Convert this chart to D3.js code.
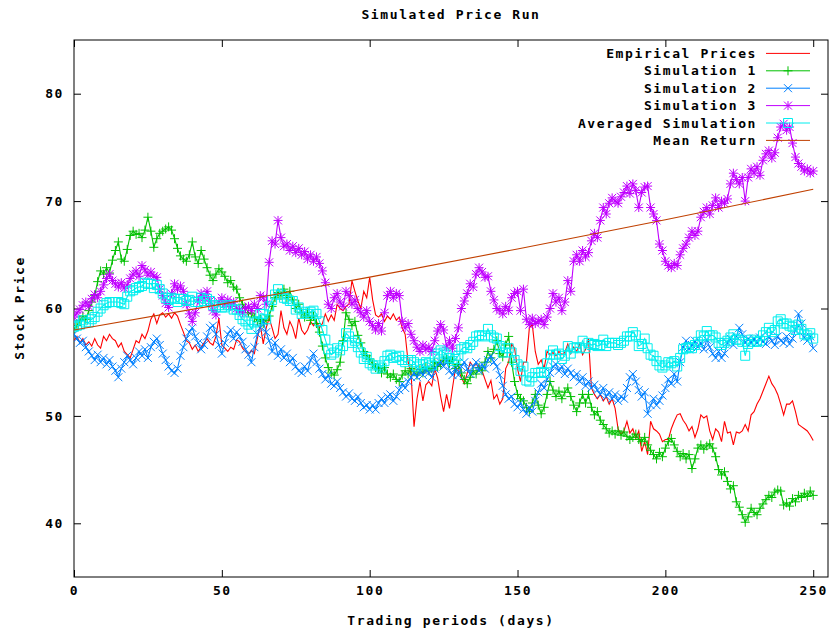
<!DOCTYPE html>
<html>
<head>
<meta charset="utf-8">
<script src="https://cdn.jsdelivr.net/npm/d3@7"></script>
<style>
  body { margin: 0; background: #fff; }
  text { font-family: "DejaVu Sans Mono", monospace; font-size: 13px; font-weight: bold; letter-spacing: 1.6px; fill: #000; }
</style>
</head>
<body>
<div class="container"></div>
<script>
// values, one per trading day (0..250)
let empirical = [
  57.0,57.4,56.8,57.2,56.6,56.9,56.5,57.2,56.6,56.3,
  57.4,57.0,57.6,57.2,57.0,56.4,56.8,56.0,55.7,55.4,
  56.2,57.0,56.8,57.6,57.2,57.9,59.0,59.5,58.6,59.4,
  59.6,59.2,59.5,59.1,59.6,59.3,58.5,57.8,57.0,56.8,
  56.2,56.6,56.0,56.4,56.8,57.2,56.8,56.6,57.4,59.1,
  56.6,56.3,56.0,56.4,56.2,57.1,56.9,56.3,56.0,55.7,
  56.1,55.8,57.2,58.5,56.7,58.2,59.1,58.2,57.2,57.6,
  59.8,58.2,57.6,58.8,58.2,57.2,59.1,58.0,57.6,58.0,
  58.8,58.4,58.8,58.2,58.6,59.5,58.8,59.4,58.9,60.4,
  60.0,59.8,60.2,60.4,62.6,61.6,60.7,60.0,61.6,61.0,
  62.9,60.8,59.4,59.2,59.5,58.8,59.3,59.0,59.5,58.9,
  59.2,58.2,57.6,55.0,53.9,49.0,51.6,53.2,51.4,52.9,
  53.2,52.8,54.4,53.5,51.8,50.4,52.0,50.7,52.6,54.4,
  54.2,53.6,53.0,54.0,55.0,54.6,54.8,54.6,54.2,53.4,
  52.6,53.3,51.6,52.0,51.1,51.6,54.4,55.0,56.7,56.3,
  54.4,53.2,55.0,55.0,58.2,58.5,56.0,54.8,55.2,54.4,
  56.0,55.7,55.9,55.6,56.0,55.7,55.9,56.7,55.8,56.4,
  56.0,56.7,55.7,56.2,57.2,52.6,52.0,51.6,52.0,51.4,
  51.8,51.1,51.6,50.7,48.8,48.3,48.6,49.5,48.4,48.8,
  47.9,48.6,46.7,47.6,46.4,49.5,48.8,48.6,48.3,47.6,
  47.8,47.8,48.8,49.5,50.1,50.2,49.6,49.2,48.6,49.0,
  48.0,48.8,50.1,49.8,50.0,48.6,47.8,48.8,48.5,47.6,
  49.5,48.4,48.5,47.3,48.5,48.4,48.6,49.2,48.6,50.1,
  50.4,51.1,51.6,52.3,53.0,53.7,53.0,52.6,52.0,51.1,
  50.1,51.1,51.1,51.4,50.4,49.2,49.0,48.8,48.6,48.2,47.7
];

let sim1 = [
  58.0,58.4,58.9,59.3,59.0,59.8,60.6,61.2,62.5,63.5,
  63.2,63.8,63.3,64.5,65.4,66.2,64.6,64.4,65.5,66.8,
  67.2,66.9,67.0,66.6,67.3,68.5,67.2,65.7,66.5,67.0,
  67.2,67.4,67.6,67.3,66.5,65.6,64.9,64.6,64.4,65.0,
  66.2,64.8,64.2,65.4,64.6,63.8,63.1,62.6,63.2,63.7,
  63.4,63.0,62.4,62.6,62.0,61.8,61.0,60.4,60.1,59.6,
  59.5,59.2,58.8,59.0,58.6,58.9,59.3,60.2,61.0,61.5,
  61.2,61.8,61.0,61.6,60.8,60.0,60.4,59.6,59.2,59.6,
  58.9,59.3,58.6,57.8,56.5,55.4,54.5,54.0,53.8,54.3,
  55.0,57.0,59.6,59.0,58.4,58.8,57.5,56.8,56.0,55.6,
  55.3,54.8,54.5,54.4,54.0,54.5,53.9,53.6,53.9,53.4,
  53.2,53.8,54.2,53.9,54.4,54.1,53.8,54.3,54.0,54.5,
  54.2,54.4,55.0,54.6,54.8,55.2,55.4,54.9,55.2,54.4,
  54.8,54.0,53.4,53.0,53.6,54.2,53.9,54.5,54.2,55.0,
  56.0,55.4,56.2,57.0,55.8,55.5,56.6,57.4,55.0,53.2,
  52.0,51.6,51.4,50.8,50.4,51.2,52.0,51.0,50.2,50.8,
  52.0,53.2,52.4,51.8,52.3,51.6,52.2,52.6,51.8,51.0,
  50.4,51.2,52.0,51.2,52.0,50.8,50.1,50.4,49.6,49.2,
  48.8,48.4,48.6,48.3,48.6,48.2,48.5,48.1,47.8,48.0,
  48.3,47.8,47.6,48.0,47.3,46.8,46.4,46.0,46.6,46.2,
  47.0,47.6,47.9,47.3,46.7,46.2,46.5,46.0,46.4,45.1,
  46.0,47.0,47.3,46.9,47.2,47.4,47.0,46.2,45.0,44.5,
  44.8,43.9,43.2,43.5,42.0,41.5,40.8,40.1,40.6,41.4,
  41.0,40.8,41.4,41.8,42.2,42.6,42.4,42.9,43.1,43.0,
  41.7,41.9,41.6,42.3,42.0,42.6,42.4,42.8,42.5,43.0,42.6
];

let sim2 = [
  57.6,57.2,56.8,57.0,56.4,56.0,55.6,55.2,55.7,55.0,
  55.4,54.8,55.2,54.6,54.2,53.6,54.4,55.0,55.6,55.2,
  54.8,55.4,56.0,55.6,56.2,55.4,56.4,56.9,57.2,56.6,
  55.8,55.2,54.6,54.2,54.0,54.4,55.6,56.4,57.2,57.8,
  58.2,57.4,56.8,56.2,56.6,57.4,58.2,58.4,57.6,56.6,
  55.8,56.8,57.6,58.0,57.2,57.8,57.4,56.9,56.2,55.7,
  55.0,56.4,57.6,58.2,58.8,57.8,57.0,56.0,56.8,55.6,
  56.2,55.4,55.8,55.0,55.4,54.6,54.2,54.0,54.6,54.2,
  55.2,55.8,55.0,54.4,53.9,53.4,53.8,53.0,52.8,53.2,
  52.6,52.2,51.8,52.1,51.6,51.4,51.8,51.2,50.8,51.0,
  50.6,51.0,50.6,51.2,51.6,51.2,51.8,52.0,51.4,51.8,
  52.4,53.0,52.6,53.2,53.6,54.0,53.6,54.2,53.8,54.4,
  54.0,53.6,54.4,54.8,55.0,54.6,55.2,54.2,53.8,54.4,
  53.8,54.6,55.0,54.4,53.9,54.6,55.0,54.2,54.8,54.4,
  55.2,55.6,55.0,54.6,53.8,52.8,52.0,51.6,51.8,51.1,
  50.8,51.2,50.6,50.2,50.8,50.4,51.4,52.2,53.0,52.6,
  53.4,54.0,54.6,54.8,54.2,54.6,53.9,54.4,54.0,53.6,
  53.9,53.2,53.6,52.8,53.2,52.6,52.9,52.4,52.0,52.6,
  51.8,52.2,51.6,52.0,51.4,51.8,51.6,52.6,53.6,53.9,
  53.2,52.4,51.8,52.2,50.2,51.0,51.6,51.0,51.4,51.9,
  52.6,53.4,53.0,53.9,53.2,55.0,56.4,57.0,56.2,56.6,
  57.0,56.4,56.8,56.2,57.1,56.4,55.8,55.4,56.0,55.4,
  55.8,56.8,57.2,56.6,57.4,58.2,57.6,56.8,57.2,56.8,
  57.2,56.8,57.3,56.9,56.7,57.4,57.0,56.6,57.4,57.0,
  56.8,57.4,56.7,57.2,58.0,59.5,58.6,57.3,57.0,57.4,56.3
];

let sim3 = [
  59.2,59.6,59.9,60.3,60.6,60.2,60.9,61.3,61.0,61.6,
  62.2,62.8,63.2,62.6,62.3,62.0,62.4,61.9,62.2,62.8,
  63.2,63.5,63.0,64.0,63.6,63.1,63.4,63.0,62.9,61.8,
  61.2,60.5,60.1,61.4,62.3,61.8,62.1,61.6,60.4,59.5,
  58.8,59.6,60.8,61.4,61.0,61.6,60.7,59.8,59.4,60.6,
  61.0,60.4,60.8,60.2,60.6,60.0,59.8,59.6,60.0,60.2,
  59.8,60.4,60.0,61.2,61.0,60.4,64.3,66.3,66.0,68.2,
  66.6,65.8,66.0,65.4,65.8,65.2,65.6,65.0,65.3,64.6,
  65.0,64.4,64.8,64.2,63.5,62.4,60.4,60.0,61.0,61.4,
  60.6,60.2,61.6,61.2,60.4,60.8,60.0,59.6,59.2,59.8,
  58.8,58.4,58.0,58.6,57.9,59.6,61.2,61.6,61.0,61.4,
  61.2,58.8,58.2,58.6,57.6,57.0,56.4,56.0,56.6,56.2,
  56.4,56.0,57.0,57.9,58.5,58.0,56.4,57.0,56.3,57.2,
  58.2,60.0,60.7,61.4,62.3,62.0,63.2,63.8,63.4,62.9,
  63.0,61.6,60.8,60.0,59.8,59.5,60.2,59.8,61.0,61.4,
  61.6,59.8,61.8,59.0,58.5,59.1,58.6,58.8,59.0,58.5,
  59.2,60.0,61.4,60.6,61.0,59.8,60.6,62.6,61.6,64.4,
  65.0,64.4,65.4,64.8,65.2,66.3,67.0,66.6,68.2,69.4,
  68.8,69.8,70.3,70.0,69.8,70.4,70.8,71.4,70.7,71.6,
  71.0,69.4,70.8,71.3,71.4,69.4,68.8,68.2,66.0,65.4,
  64.4,64.0,63.8,64.2,64.0,65.0,65.6,66.0,66.6,67.2,
  66.8,67.2,68.5,69.0,69.4,68.8,69.6,70.3,69.4,70.0,
  69.8,70.2,71.6,72.6,72.0,71.6,72.2,70.0,72.2,73.0,
  72.6,73.2,72.4,73.8,74.4,74.7,74.0,74.5,75.9,76.9,
  77.2,76.6,76.9,75.4,74.1,73.5,73.2,72.8,73.0,72.6,72.8
];

let averaged = [
  58.3,58.4,58.5,58.9,58.7,58.7,59.0,59.2,59.7,60.0,
  60.3,60.5,60.6,60.6,60.6,60.6,60.5,60.4,61.1,61.6,
  61.7,61.9,62.0,62.1,62.4,62.3,62.3,61.9,62.2,61.8,
  61.4,61.0,60.8,61.0,60.9,60.6,60.9,60.9,60.7,60.8,
  61.1,60.6,60.6,61.0,60.7,60.9,60.7,60.3,60.1,60.3,
  60.1,60.1,60.3,60.3,59.9,59.9,59.4,59.0,58.8,58.5,
  58.1,58.7,58.8,59.5,59.5,59.0,60.2,60.8,61.3,61.8,
  61.3,61.0,60.9,60.7,60.7,59.9,60.1,59.5,59.7,59.5,
  59.7,59.8,59.5,58.8,58.0,57.1,56.2,55.7,55.9,56.3,
  56.1,56.5,57.7,57.4,56.8,57.0,56.4,55.9,55.3,55.5,
  54.9,54.7,54.4,54.7,54.5,55.1,55.6,55.7,55.4,55.5,
  55.6,55.2,55.0,55.2,55.2,55.0,54.6,54.8,54.8,55.0,
  54.9,54.7,55.5,55.8,56.1,55.9,55.7,55.4,55.1,55.3,
  55.6,56.2,56.4,56.3,56.6,56.9,57.4,57.5,57.5,57.4,
  58.1,57.5,57.3,57.2,56.5,55.9,56.3,56.3,55.9,55.2,
  54.8,54.2,54.6,53.3,53.2,53.6,54.0,54.0,54.1,54.0,
  54.9,55.7,56.1,55.7,55.8,55.3,55.6,56.5,55.8,56.3,
  56.4,56.3,57.0,56.3,56.8,56.6,56.7,56.5,56.6,57.1,
  56.5,56.8,56.8,56.8,56.6,56.8,57.0,57.4,57.4,57.8,
  57.5,56.5,56.7,57.2,56.3,55.7,55.6,55.1,54.7,54.5,
  54.7,55.0,54.9,55.1,54.6,55.4,56.2,56.3,56.4,56.3,
  56.6,56.9,57.5,57.4,57.9,57.5,57.5,57.3,56.8,56.6,
  56.8,57.0,57.3,57.6,57.1,57.1,56.9,55.6,56.7,57.1,
  56.9,56.9,57.0,57.5,57.8,58.2,57.8,58.0,58.8,59.0,
  58.6,58.6,58.4,58.3,58.0,58.5,58.1,57.6,57.5,57.7,57.2
];

let meanReturnDays = [0, 50, 100, 150, 200, 250];
let meanReturn = [58.0, 60.41, 62.92, 65.54, 68.26, 71.1];

let xTicks = [0, 50, 100, 150, 200, 250];
let yTicks = [40, 50, 60, 70, 80];

let outerWidth = 831,
    outerHeight = 634;
let margin = {top: 40, right: 3, bottom: 57, left: 74};
let width = outerWidth - margin.left - margin.right,
    height = outerHeight - margin.top - margin.bottom;

let svg = d3.select('.container').append('svg')
  .attr('width', outerWidth)
  .attr('height', outerHeight);

let group = svg.append('g')
  .attr('transform', `translate(${margin.left},${margin.top})`);

let x = d3.scaleLinear().domain([0, 255]).range([0, width]);
let y = d3.scaleLinear().domain([35, 85]).range([height, 0]);

// axes: gnuplot style inward ticks, mirrored on top and right
let tick = 7;
group.append('g')
  .attr('class', 'axis x-axis')
  .attr('transform', `translate(0,${height})`)
  .call(d3.axisBottom(x).tickValues(xTicks).tickSize(-tick).tickPadding(9));
group.append('g')
  .call(d3.axisTop(x).tickValues(xTicks).tickSize(-tick).tickFormat(''));
group.append('g')
  .attr('class', 'axis y-axis')
  .call(d3.axisLeft(y).tickValues(yTicks).tickSize(-tick).tickPadding(10));
group.append('g')
  .attr('transform', `translate(${width},0)`)
  .call(d3.axisRight(y).tickValues(yTicks).tickSize(-tick).tickFormat(''));

group.selectAll('.domain').remove();
group.selectAll('.tick line').attr('stroke', '#000');
group.selectAll('.tick text')
  .style('font-family', '"DejaVu Sans Mono", monospace')
  .style('font-size', '13px')
  .style('font-weight', 'bold');

group.append('rect')
  .attr('x', 0).attr('y', 0)
  .attr('width', width).attr('height', height)
  .attr('fill', 'none').attr('stroke', '#000');

svg.append('text')
  .attr('x', margin.left + width / 2)
  .attr('y', 19)
  .style('text-anchor', 'middle')
  .text('Simulated Price Run');

svg.append('text')
  .attr('x', margin.left + width / 2)
  .attr('y', 625)
  .style('text-anchor', 'middle')
  .text('Trading periods (days)');

svg.append('text')
  .attr('transform', 'rotate(-90)')
  .attr('x', -308)
  .attr('y', 24)
  .style('text-anchor', 'middle')
  .text('Stock Price');

// point shapes
let shapes = {
  none: () => '',
  plus: (px, py) => `M${px - 4.5},${py}h9M${px},${py - 4.5}v9`,
  cross: (px, py) => `M${px - 4},${py - 4}l8,8M${px - 4},${py + 4}l8,-8`,
  star: (px, py) => `M${px - 4.5},${py}h9M${px},${py - 4.5}v9M${px - 4},${py - 4}l8,8M${px - 4},${py + 4}l8,-8`,
  box: (px, py) => `M${px - 4.5},${py - 4.5}h9v9h-9z`
};

let series = [
  {name: 'Empirical Prices', days: d3.range(empirical.length), values: empirical, color: '#ff0000', shape: 'none'},
  {name: 'Simulation 1', days: d3.range(sim1.length), values: sim1, color: '#00c000', shape: 'plus'},
  {name: 'Simulation 2', days: d3.range(sim2.length), values: sim2, color: '#0080ff', shape: 'cross'},
  {name: 'Simulation 3', days: d3.range(sim3.length), values: sim3, color: '#c000ff', shape: 'star'},
  {name: 'Averaged Simulation', days: d3.range(averaged.length), values: averaged, color: '#00eeee', shape: 'box'},
  {name: 'Mean Return', days: meanReturnDays, values: meanReturn, color: '#c04000', shape: 'none'}
];

svg.append('defs').append('clipPath').attr('id', 'plot-clip')
  .append('rect').attr('width', width).attr('height', height);

let plot = group.append('g').attr('clip-path', 'url(#plot-clip)');
let line = d3.line().x(d => x(d[0])).y(d => y(d[1]));

series.forEach(s => {
  let pts = s.days.map((d, i) => [d, s.values[i]]);
  let g = plot.append('g');
  g.append('path')
    .datum(pts)
    .attr('d', line)
    .attr('fill', 'none')
    .attr('stroke', s.color)
    .attr('stroke-width', 1.1);
  if (s.shape !== 'none') {
    g.append('path')
      .attr('d', pts.map(p => shapes[s.shape](x(p[0]), y(p[1]))).join(''))
      .attr('fill', 'none')
      .attr('stroke', s.color)
      .attr('stroke-width', 1);
  }
});

// legend, top right inside the frame
let legend = svg.append('g');
series.forEach((s, i) => {
  let ly = 53.4 + i * 17.4;
  legend.append('text')
    .attr('x', 757)
    .attr('y', ly + 4.5)
    .style('text-anchor', 'end')
    .text(s.name);
  legend.append('line')
    .attr('x1', 766).attr('x2', 810)
    .attr('y1', ly).attr('y2', ly)
    .attr('stroke', s.color);
  if (s.shape !== 'none') {
    legend.append('path')
      .attr('d', shapes[s.shape](788, ly))
      .attr('fill', 'none')
      .attr('stroke', s.color);
  }
});
</script>
</body>
</html>
